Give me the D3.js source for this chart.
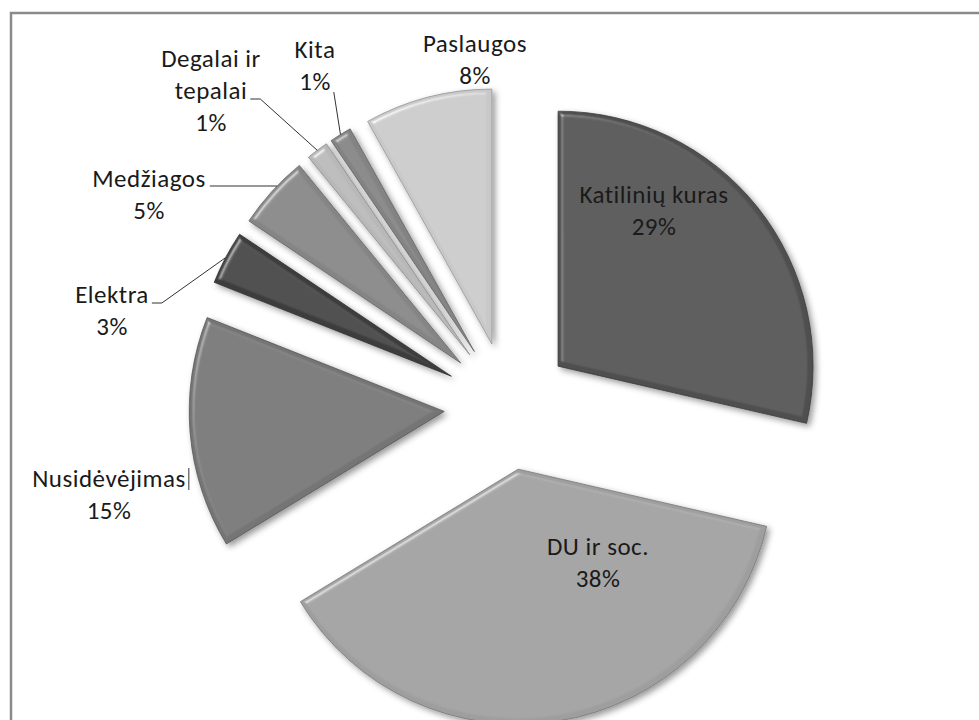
<!DOCTYPE html>
<html>
<head>
<meta charset="utf-8">
<script src="https://cdn.jsdelivr.net/npm/d3@7/dist/d3.min.js"></script>
<style>
  html, body { margin: 0; padding: 0; background: #fff; }
  svg { display: block; }
  text { font-family: Carlito, Calibri, Lato, "Open Sans", sans-serif; fill: #1a1a1a; letter-spacing: 0.5px; }
</style>
</head>
<body>
<svg id="chart" width="979" height="720"></svg>
<script>
// ---- data ----
const categories = ["Katilinių kuras", "DU ir soc.", "Nusidėvėjimas", "Elektra", "Medžiagos", "Degalai ir tepalai", "Kita", "Paslaugos"];
const values = [28.6, 37.7, 14.7, 3.4, 4.7, 1.4, 1.4, 8.1];
const percentLabels = ["29%", "38%", "15%", "3%", "5%", "1%", "1%", "8%"];
const labelLines = [["Katilinių kuras"], ["DU ir soc."], ["Nusidėvėjimas"], ["Elektra"], ["Medžiagos"], ["Degalai ir", "tepalai"], ["Kita"], ["Paslaugos"]];
const sliceColors = ["#4f4f4f", "#9e9e9e", "#747474", "#3d3d3d", "#858585", "#b8b8b8", "#838383", "#c8c8c8"];

// ---- layout ----
const W = 979, H = 720;
const cx = 508, cy = 406, R = 255, explode = 64;
const fontSize = 25, lineH = 32;
// label anchor: [centre x, first baseline y]
const labelLayout = [[654, 203], [598, 555], [109, 487], [112, 303], [149, 187], [211, 67], [315, 58], [475, 52]];
// leader type per slice
const leaderType = [null, null, "vbar", "elbowMid", "horiz", "elbowMid", "direct", null];

const svg = d3.select("#chart");
const defs = svg.append("defs");
const f = defs.append("filter").attr("id", "bev")
  .attr("x", "-10%").attr("y", "-10%").attr("width", "130%").attr("height", "130%");
f.append("feGaussianBlur").attr("in", "SourceAlpha").attr("stdDeviation", 2.8).attr("result", "b");
const sp = f.append("feSpecularLighting").attr("in", "b").attr("surfaceScale", 4)
  .attr("specularConstant", 0.8).attr("specularExponent", 30).attr("lighting-color", "#ffffff").attr("result", "s");
sp.append("feDistantLight").attr("azimuth", 225).attr("elevation", 45);
f.append("feComposite").attr("in", "s").attr("in2", "SourceAlpha").attr("operator", "in").attr("result", "sIn");
f.append("feComposite").attr("in", "SourceGraphic").attr("in2", "sIn").attr("operator", "arithmetic")
  .attr("k1", 0).attr("k2", 1).attr("k3", 0.5).attr("k4", 0).attr("result", "lit");
f.append("feGaussianBlur").attr("in", "SourceAlpha").attr("stdDeviation", 3).attr("result", "b2");
f.append("feOffset").attr("in", "b2").attr("dx", 3).attr("dy", 3).attr("result", "so");
f.append("feFlood").attr("flood-color", "#000").attr("flood-opacity", 0.4).attr("result", "fl");
f.append("feComposite").attr("in", "fl").attr("in2", "so").attr("operator", "in").attr("result", "shadow");
const mg = f.append("feMerge");
mg.append("feMergeNode").attr("in", "shadow");
mg.append("feMergeNode").attr("in", "lit");

// frame
svg.append("rect").attr("x", 11).attr("y", 13).attr("width", W + 20).attr("height", H + 20)
  .attr("fill", "none").attr("stroke", "#8a8a8a").attr("stroke-width", 2.5);

const pie = d3.pie().sort(null).value(d => d).startAngle(0).endAngle(2 * Math.PI);
const arcs = pie(values);
const arc = d3.arc().innerRadius(0).outerRadius(R);

function offsetOf(a) {
  const m = (a.startAngle + a.endAngle) / 2;
  return [Math.sin(m) * explode, -Math.cos(m) * explode];
}

const g = svg.append("g").attr("transform", `translate(${cx},${cy})`);
g.selectAll("path.slice").data(arcs).enter().append("path")
  .attr("class", "slice")
  .attr("transform", d => { const o = offsetOf(d); return `translate(${o[0]},${o[1]})`; })
  .attr("d", arc)
  .attr("fill", (d, i) => sliceColors[i])
  .attr("stroke", (d, i) => d3.color(sliceColors[i]).darker(0.8))
  .attr("stroke-width", 0.8)
  .attr("filter", "url(#bev)");

// labels
const labG = svg.append("g");
arcs.forEach((a, i) => {
  const [lx, ly] = labelLayout[i];
  const lines = labelLines[i].concat([percentLabels[i]]);
  const t = labG.append("text").attr("text-anchor", "middle").attr("font-size", fontSize);
  const spans = lines.map((ln, k) => t.append("tspan").attr("x", lx).attr("y", ly + k * lineH).text(ln));

  const type = leaderType[i];
  if (!type) return;
  const o = offsetOf(a);
  const m = (a.startAngle + a.endAngle) / 2;
  const ax = cx + o[0], ay = cy + o[1];
  const outer = [ax + Math.sin(m) * R, ay - Math.cos(m) * R];
  let pts;
  const nameIdx = labelLines[i].length - 1;
  const bb = spans[nameIdx].node().getBBox();
  const by = ly + nameIdx * lineH;
  if (type === "elbowMid") {
    const sx = bb.x + bb.width + 3;
    pts = [[sx, by], [sx + 10, by], outer];
  } else if (type === "horiz") {
    const sx = bb.x + bb.width + 4;
    const yy = by - 1;
    const ex = ax - Math.sqrt(R * R - (yy - ay) * (yy - ay));
    pts = [[sx, yy], [ex, yy]];
  } else if (type === "direct") {
    const pb = spans[lines.length - 1].node().getBBox();
    const sx = pb.x + pb.width + 3;
    pts = [[sx, ly + (lines.length - 1) * lineH + 2], outer];
  } else if (type === "vbar") {
    const sx = bb.x + bb.width + 3;
    pts = [[sx, by - 19], [sx, by + 3]];
  }
  labG.append("path").attr("d", d3.line()(pts)).attr("fill", "none")
    .attr("stroke", "#333").attr("stroke-width", 1);
});
</script>
</body>
</html>
